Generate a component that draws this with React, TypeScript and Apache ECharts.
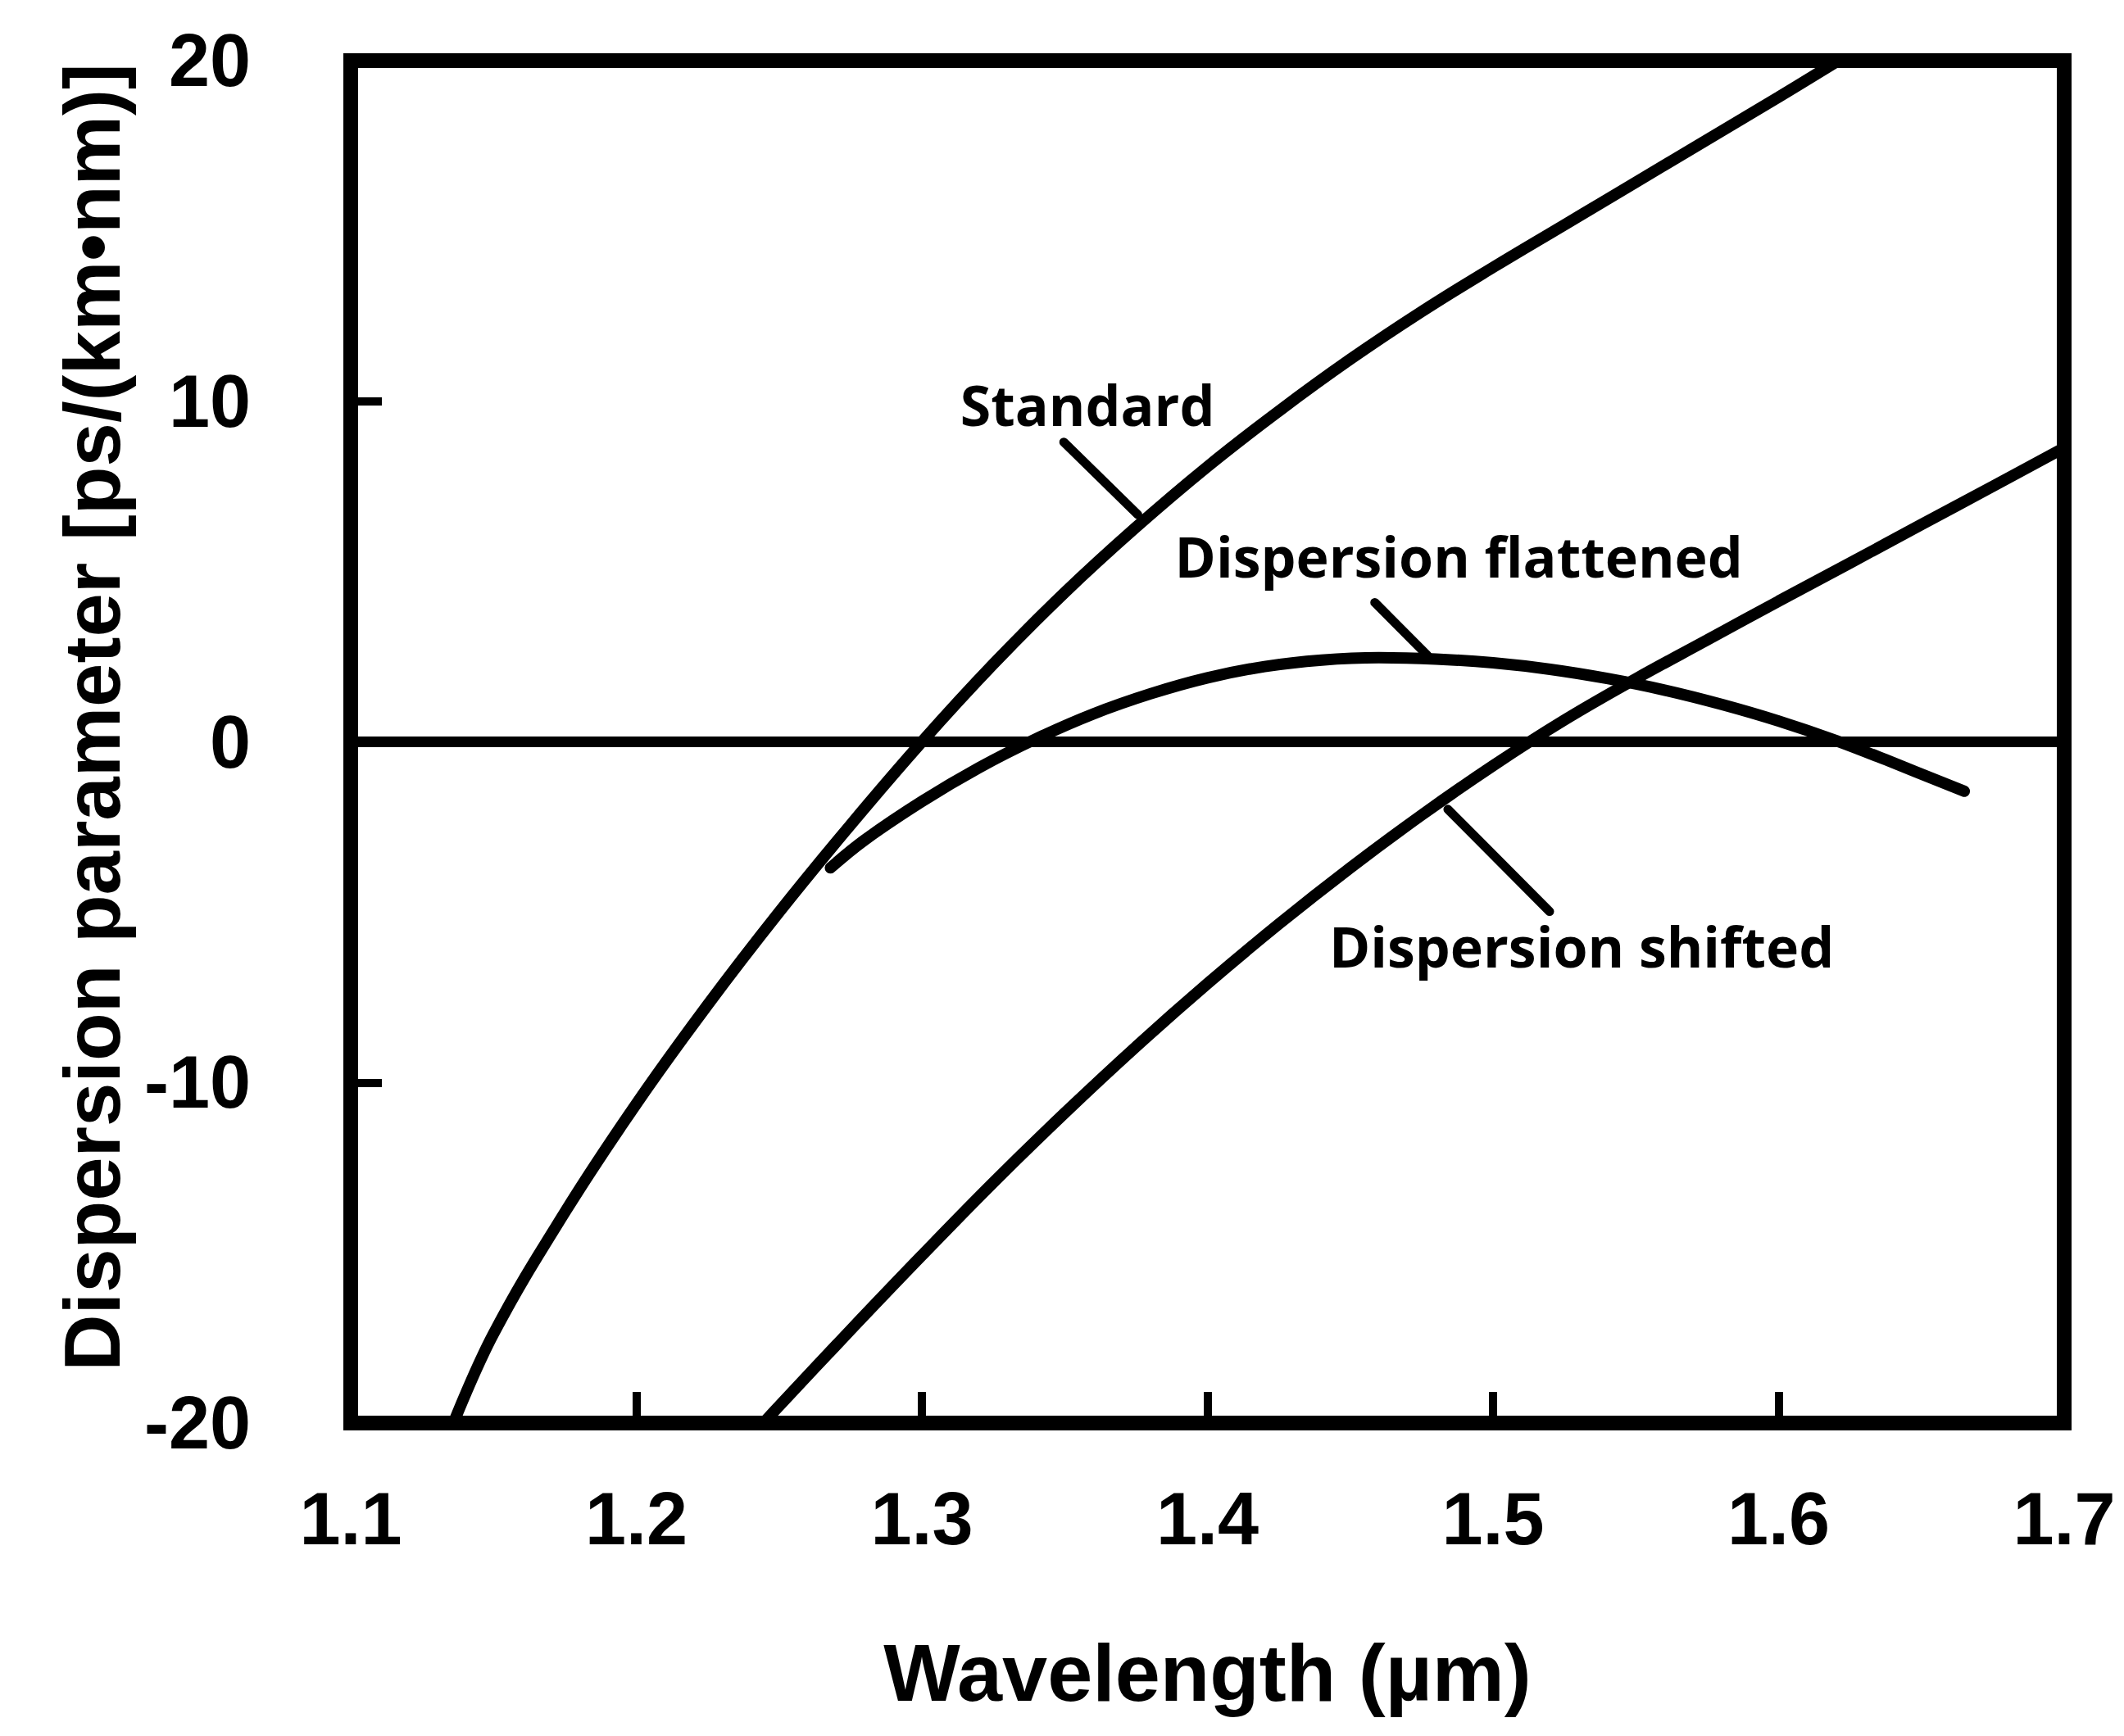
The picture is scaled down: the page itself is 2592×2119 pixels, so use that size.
import React, { useEffect, useRef } from "react";
import * as echarts from "echarts";

// Wavelength (µm) and dispersion (ps/(km·nm))
const standardWavelength = [1.136, 1.15, 1.175, 1.2, 1.225, 1.25, 1.275, 1.3, 1.325, 1.35, 1.375, 1.4, 1.425, 1.45, 1.475, 1.5, 1.525, 1.55, 1.575, 1.6, 1.62];
const standardDispersion = [-20, -17.38, -13.81, -10.63, -7.72, -5.0, -2.44, 0, 2.28, 4.38, 6.3, 8.08, 9.71, 11.23, 12.63, 13.93, 15.18, 16.43, 17.68, 18.93, 19.95];

const flattenedWavelength = [1.268, 1.28, 1.3, 1.32, 1.34, 1.36, 1.38, 1.4, 1.42, 1.44, 1.46, 1.48, 1.5, 1.52, 1.54, 1.56, 1.58, 1.6, 1.62, 1.64, 1.665];
const flattenedDispersion = [-3.7, -2.88, -1.75, -0.76, 0.09, 0.82, 1.41, 1.88, 2.21, 2.4, 2.47, 2.43, 2.32, 2.13, 1.86, 1.52, 1.1, 0.61, 0.04, -0.61, -1.45];

const shiftedWavelength = [1.2445, 1.25, 1.275, 1.3, 1.325, 1.35, 1.375, 1.4, 1.425, 1.45, 1.475, 1.5, 1.525, 1.55, 1.575, 1.6, 1.625, 1.65, 1.675, 1.7];
const shiftedDispersion = [-20, -19.5, -17.27, -15.08, -12.94, -10.9, -8.95, -7.1, -5.35, -3.7, -2.15, -0.7, 0.64, 1.85, 2.99, 4.13, 5.25, 6.38, 7.5, 8.63];

const zeroWavelength = [1.1, 1.7];
const zeroDispersion = [0, 0];

// Curve annotations (data coordinates)
const annotationTexts = ["Standard", "Dispersion flattened", "Dispersion shifted"];
const annotationX = [1.358, 1.488, 1.531];
const annotationY = [9.9, 5.45, -6.0];
const leaderStartX = [1.3497, 1.4586, 1.4842];
const leaderStartY = [8.8, 4.09, -1.98];
const leaderEndX = [1.3756, 1.477, 1.5198];
const leaderEndY = [6.67, 2.54, -4.98];

const xMin = 1.1;
const xMax = 1.7;
const xStep = 0.1;
const yMin = -20;
const yMax = 20;
const yStep = 10;

const xTitle = "Wavelength (µm)";
const yTitle = "Dispersion parameter [ps/(km•nm)]";

const zip = (xs: number[], ys: number[]) => xs.map((x, i) => [x, ys[i]]);

const tickFont = "'Liberation Sans', Arial, sans-serif";
const titleFont = "'Liberation Sans', Arial, sans-serif";
const noteFont = "'Open Sans', 'Noto Sans', sans-serif";

export default function App() {
  const ref = useRef<HTMLDivElement>(null);

  useEffect(() => {
    document.body.style.margin = "0";
    document.body.style.overflow = "hidden";
    if (!ref.current) return;
    const chart = echarts.init(ref.current, undefined, { renderer: "svg" });

    const curveStyle = { color: "#000", width: 14 };

    const series: any[] = [
      {
        type: "line",
        data: zip(zeroWavelength, zeroDispersion),
        symbol: "none",
        silent: true,
        lineStyle: { color: "#000", width: 13 },
      },
      {
        type: "line",
        name: "Standard",
        data: zip(standardWavelength, standardDispersion),
        symbol: "none",
        smooth: 0.4,
        silent: true,
        lineStyle: curveStyle,
      },
      {
        type: "line",
        name: "Dispersion flattened",
        data: zip(flattenedWavelength, flattenedDispersion),
        symbol: "none",
        smooth: 0.4,
        silent: true,
        lineStyle: { ...curveStyle, cap: "round" },
      },
      {
        type: "line",
        name: "Dispersion shifted",
        data: zip(shiftedWavelength, shiftedDispersion),
        symbol: "none",
        smooth: 0.4,
        silent: true,
        lineStyle: curveStyle,
      },
    ];

    annotationTexts.forEach((_, i) => {
      series.push({
        type: "line",
        data: [
          [leaderStartX[i], leaderStartY[i]],
          [leaderEndX[i], leaderEndY[i]],
        ],
        symbol: "none",
        silent: true,
        lineStyle: { color: "#000", width: 11, cap: "round" },
      });
    });

    series.push({
      type: "scatter",
      data: annotationTexts.map((t, i) => ({ value: [annotationX[i], annotationY[i]], name: t })),
      symbolSize: 0,
      silent: true,
      itemStyle: { color: "#000", opacity: 1 },
      label: {
        show: true,
        position: "inside",
        formatter: (p: any) => p.name,
        fontFamily: noteFont,
        fontWeight: "bold",
        fontSize: 68,
        color: "#000",
        opacity: 1,
        textBorderWidth: 0,
        textBorderColor: "transparent",
      },
    });

    chart.setOption({
      animation: false,
      backgroundColor: "#fff",
      grid: {
        left: 428,
        right: 73,
        top: 74,
        bottom: 382,
        show: true,
        borderColor: "#000",
        borderWidth: 18,
        backgroundColor: "transparent",
      },
      xAxis: {
        type: "value",
        min: xMin,
        max: xMax,
        interval: xStep,
        axisLine: { show: false, onZero: false },
        splitLine: { show: false },
        axisTick: { show: true, inside: true, length: 38, lineStyle: { color: "#000", width: 10 } },
        axisLabel: {
          margin: 72,
          fontSize: 90,
          fontWeight: "bold",
          fontFamily: tickFont,
          color: "#000",
          formatter: (v: number) => v.toFixed(1),
        },
        name: xTitle,
        nameLocation: "middle",
        nameGap: 255,
        nameTextStyle: { fontSize: 99, fontWeight: "bold", fontFamily: titleFont, color: "#000" },
      },
      yAxis: {
        type: "value",
        min: yMin,
        max: yMax,
        interval: yStep,
        axisLine: { show: false, onZero: false },
        splitLine: { show: false },
        axisTick: { show: true, inside: true, length: 38, lineStyle: { color: "#000", width: 10 } },
        axisLabel: {
          margin: 122,
          fontSize: 90,
          fontWeight: "bold",
          fontFamily: tickFont,
          color: "#000",
          formatter: (v: number) => String(Math.round(v)),
        },
        name: yTitle,
        nameLocation: "middle",
        nameGap: 268,
        nameTextStyle: {
          fontSize: 96,
          fontWeight: "bold",
          fontFamily: titleFont,
          color: "#000",
          padding: [0, 0, 0, 60],
        },
      },
      series,
    });

    return () => chart.dispose();
  }, []);

  return <div ref={ref} style={{ width: 2592, height: 2119 }} />;
}
